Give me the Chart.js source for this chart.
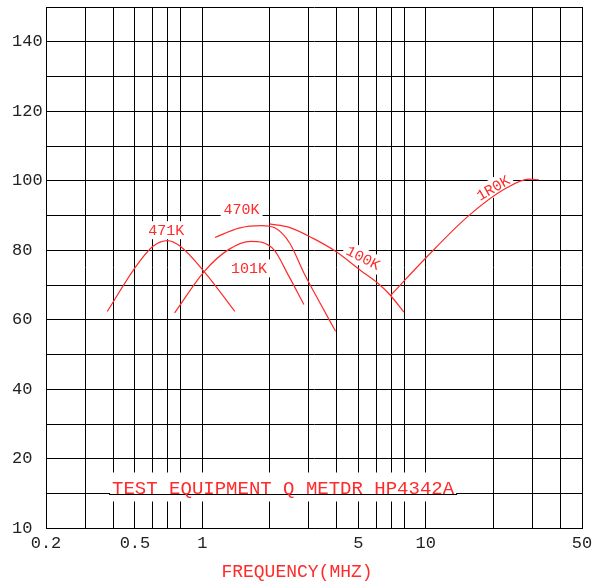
<!DOCTYPE html>
<html>
<head>
<meta charset="utf-8">
<script src="https://cdn.jsdelivr.net/npm/chart.js@4.4.0/dist/chart.umd.min.js"></script>
<style>
    html, body { margin: 0; padding: 0; background: #fff; }
    #qChart { display: block; }
</style>
</head>
<body>
<canvas id="qChart" width="593" height="584"></canvas>
<script>
// Eje X (MHz) - la hoja original no tiene linea de 0.9 ni de 9
const freqTicks = [0.2, 0.3, 0.4, 0.5, 0.6, 0.7, 0.8, 1, 2, 3, 4, 5, 6, 7, 8, 10, 20, 30, 40, 50];
const freqTickText = ["0.2", "", "", "0.5", "", "", "", "1", "", "", "", "5", "", "", "", "10", "", "", "", "50"];

// Eje Y (Q)
const qTicks = [0, 10, 20, 30, 40, 50, 60, 70, 80, 90, 100, 110, 120, 130, 140, 150];
const qTickText = ["10", "", "20", "", "40", "", "60", "", "80", "", "100", "", "120", "", "140", ""];

// Curvas
const f471K = [0.376, 0.493, 0.6, 0.7, 0.8, 1.02, 1.40];
const q471K = [62.4, 74.4, 81.1, 82.8, 81.1, 73.9, 62.4];

const f101K = [0.752, 1.02, 1.31, 1.65, 2.09, 2.42, 2.85];
const q101K = [62.0, 73.9, 80.2, 82.6, 80.2, 73.0, 64.4];

const f470K = [1.14, 1.46, 1.84, 2.12, 2.46, 2.85, 3.36, 3.95];
const q470K = [83.7, 86.4, 87.1, 86.4, 82.1, 73.5, 64.9, 56.7];

const f100K = [2.0, 2.45, 3.12, 3.95, 5.11, 6.09, 6.96, 7.98];
const q100K = [87.6, 86.6, 83.5, 79.7, 74.2, 70.6, 67.0, 62.2];

const f1R0K = [6.96, 10.0, 15.4, 22.9, 29.0, 32.1];
const q1R0K = [67.0, 77.8, 89.7, 97.9, 100.5, 100.3];

// Etiquetas de las curvas
const labelText = ["471K", "470K", "101K", "100K", "1R0K"];
const labelFreq = [0.69, 1.50, 1.62, 5.25, 20];
const labelQ = [85.8, 92.0, 74.8, 77.9, 98.0];
const labelAngle = [0, 0, 0, 27, -30];

const noteText = "TEST EQUIPMENT Q METDR HP4342A";
const noteFreq = 2.3;
const noteQ = 10;

const RED = "#ff2a2a";
const FONT = "'Liberation Mono', 'Courier New', monospace";

function toPoints(fs, qs) {
    return fs.map((f, i) => ({ x: f, y: qs[i] }));
}

function curve(fs, qs) {
    return {
        data: toPoints(fs, qs),
        borderColor: RED,
        borderWidth: 1.2,
        pointRadius: 0,
        cubicInterpolationMode: "monotone",
        fill: false
    };
}

// Textos sobre la grilla con fondo blanco
const annotations = {
    id: "annotations",
    beforeDatasetsDraw(chart) {
        const { ctx, scales: { x, y } } = chart;
        ctx.save();
        ctx.font = "15px " + FONT;
        ctx.textAlign = "center";
        ctx.textBaseline = "middle";
        labelText.forEach((t, i) => {
            const px = x.getPixelForValue(labelFreq[i]);
            const py = y.getPixelForValue(labelQ[i]);
            const w = ctx.measureText(t).width;
            ctx.save();
            ctx.translate(px, py);
            ctx.rotate(labelAngle[i] * Math.PI / 180);
            ctx.fillStyle = "#fff";
            ctx.fillRect(-w / 2 - 3, -9, w + 6, 18);
            ctx.fillStyle = RED;
            ctx.fillText(t, 0, 1);
            ctx.restore();
        });

        // nota de equipo
        ctx.font = "19px " + FONT;
        const nx = x.getPixelForValue(noteFreq);
        const ny = Math.round(y.getPixelForValue(noteQ)) + 0.5;
        const nw = ctx.measureText(noteText).width;
        ctx.fillStyle = "#fff";
        ctx.fillRect(nx - nw / 2 - 2, ny - 22, nw + 4, 29);
        ctx.strokeStyle = "#000";
        ctx.lineWidth = 1;
        ctx.beginPath();
        ctx.moveTo(nx - nw / 2 - 3, ny);
        ctx.lineTo(nx + nw / 2 + 3, ny);
        ctx.stroke();
        ctx.fillStyle = RED;
        ctx.textBaseline = "alphabetic";
        ctx.fillText(noteText, nx, ny - 1);
        ctx.restore();
    }
};

new Chart(document.getElementById("qChart").getContext("2d"), {
    type: "line",
    data: {
        datasets: [
            curve(f471K, q471K),
            curve(f101K, q101K),
            curve(f470K, q470K),
            curve(f100K, q100K),
            curve(f1R0K, q1R0K)
        ]
    },
    options: {
        responsive: false,
        animation: false,
        layout: { padding: { left: 12, right: 11, top: 7, bottom: 0 } },
        plugins: {
            legend: { display: false },
            tooltip: { enabled: false },
            title: {
                display: true,
                position: "bottom",
                text: "FREQUENCY(MHZ)",
                color: RED,
                font: { family: FONT, size: 18, weight: "normal" },
                padding: { top: 0, bottom: 1 }
            }
        },
        scales: {
            x: {
                type: "logarithmic",
                min: 0.2,
                max: 50,
                afterBuildTicks: (s) => { s.ticks = freqTicks.map(v => ({ value: v })); },
                afterFit: (s) => { s.height = 33; s.paddingLeft = 0; s.paddingRight = 0; },
                ticks: {
                    autoSkip: false,
                    maxRotation: 0,
                    padding: 5,
                    color: "#222",
                    font: { family: FONT, size: 17 },
                    callback: (v, i) => freqTickText[i]
                },
                grid: { color: "#000", lineWidth: 1, drawTicks: false },
                border: { color: "#000", width: 1 }
            },
            y: {
                type: "linear",
                min: 0,
                max: 150,
                afterBuildTicks: (s) => { s.ticks = qTicks.map(v => ({ value: v })); },
                afterFit: (s) => { s.width = 34; s.paddingTop = 0; s.paddingBottom = 0; },
                ticks: {
                    crossAlign: "far",
                    color: "#222",
                    font: { family: FONT, size: 17 },
                    callback: (v, i) => qTickText[i]
                },
                grid: { color: "#000", lineWidth: 1, drawTicks: false },
                border: { color: "#000", width: 1 }
            }
        }
    },
    plugins: [annotations]
});
</script>
</body>
</html>
